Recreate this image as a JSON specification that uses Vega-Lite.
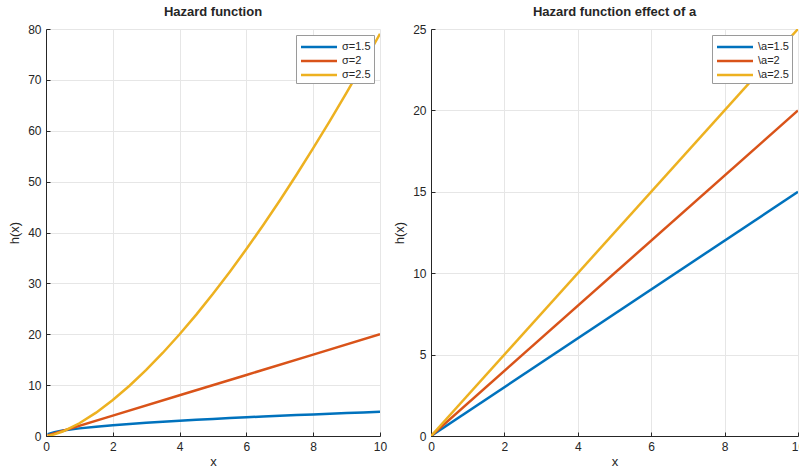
{
  "$schema": "https://vega.github.io/schema/vega-lite/v6.json",
  "background": "white",
  "padding": {"left": 8, "top": 6, "right": 0, "bottom": 0},
  "spacing": 6,
  "config": {
    "font": "Liberation Sans",
    "view": {"stroke": null},
    "title": {"fontSize": 13, "fontWeight": "bold", "color": "#262626", "offset": 4},
    "axis": {
      "domainColor": "#262626",
      "tickColor": "#262626",
      "tickSize": -4,
      "labelPadding": 9,
      "labelColor": "#262626",
      "labelFontSize": 12,
      "labelOverlap": false,
      "labelFlush": false,
      "titleFontSize": 13,
      "titleFontWeight": "normal",
      "titleColor": "#262626",
      "gridColor": "#e6e6e6",
      "gridOpacity": 1
    },
    "axisX": {"titlePadding": 3},
    "axisY": {"titlePadding": 6},
    "legend": {
      "orient": "top-right",
      "offset": 6,
      "title": null,
      "symbolType": "M-2.4,0H2.4",
      "symbolSize": 225,
      "symbolStrokeWidth": 2.5,
      "labelFontSize": 11,
      "labelColor": "#262626",
      "strokeColor": "#9a9a9a",
      "fillColor": "white",
      "padding": 3,
      "rowPadding": 0,
      "symbolOffset": 11,
      "labelOffset": 14,
      "cornerRadius": 0
    }
  },
  "hconcat": [
    {
      "title": "Hazard function",
      "width": 334,
      "height": 407,
      "data": {"values": [
        {"x": 0.05, "h": 0.335, "s": "σ=1.5"},
        {"x": 0.25, "h": 0.75, "s": "σ=1.5"},
        {"x": 0.5, "h": 1.061, "s": "σ=1.5"},
        {"x": 1, "h": 1.5, "s": "σ=1.5"},
        {"x": 1.5, "h": 1.837, "s": "σ=1.5"},
        {"x": 2, "h": 2.121, "s": "σ=1.5"},
        {"x": 2.5, "h": 2.372, "s": "σ=1.5"},
        {"x": 3, "h": 2.598, "s": "σ=1.5"},
        {"x": 3.5, "h": 2.806, "s": "σ=1.5"},
        {"x": 4, "h": 3.0, "s": "σ=1.5"},
        {"x": 4.5, "h": 3.182, "s": "σ=1.5"},
        {"x": 5, "h": 3.354, "s": "σ=1.5"},
        {"x": 5.5, "h": 3.518, "s": "σ=1.5"},
        {"x": 6, "h": 3.674, "s": "σ=1.5"},
        {"x": 6.5, "h": 3.824, "s": "σ=1.5"},
        {"x": 7, "h": 3.969, "s": "σ=1.5"},
        {"x": 7.5, "h": 4.108, "s": "σ=1.5"},
        {"x": 8, "h": 4.243, "s": "σ=1.5"},
        {"x": 8.5, "h": 4.373, "s": "σ=1.5"},
        {"x": 9, "h": 4.5, "s": "σ=1.5"},
        {"x": 9.5, "h": 4.623, "s": "σ=1.5"},
        {"x": 10, "h": 4.743, "s": "σ=1.5"},
        {"x": 0.05, "h": 0.1, "s": "σ=2"},
        {"x": 2, "h": 4, "s": "σ=2"},
        {"x": 4, "h": 8, "s": "σ=2"},
        {"x": 6, "h": 12, "s": "σ=2"},
        {"x": 8, "h": 16, "s": "σ=2"},
        {"x": 10, "h": 20, "s": "σ=2"},
        {"x": 0.05, "h": 0.028, "s": "σ=2.5"},
        {"x": 0.25, "h": 0.313, "s": "σ=2.5"},
        {"x": 0.5, "h": 0.884, "s": "σ=2.5"},
        {"x": 1, "h": 2.5, "s": "σ=2.5"},
        {"x": 1.5, "h": 4.593, "s": "σ=2.5"},
        {"x": 2, "h": 7.071, "s": "σ=2.5"},
        {"x": 2.5, "h": 9.882, "s": "σ=2.5"},
        {"x": 3, "h": 12.99, "s": "σ=2.5"},
        {"x": 3.5, "h": 16.37, "s": "σ=2.5"},
        {"x": 4, "h": 20.0, "s": "σ=2.5"},
        {"x": 4.5, "h": 23.865, "s": "σ=2.5"},
        {"x": 5, "h": 27.951, "s": "σ=2.5"},
        {"x": 5.5, "h": 32.247, "s": "σ=2.5"},
        {"x": 6, "h": 36.742, "s": "σ=2.5"},
        {"x": 6.5, "h": 41.43, "s": "σ=2.5"},
        {"x": 7, "h": 46.301, "s": "σ=2.5"},
        {"x": 7.5, "h": 51.35, "s": "σ=2.5"},
        {"x": 8, "h": 56.569, "s": "σ=2.5"},
        {"x": 8.5, "h": 61.955, "s": "σ=2.5"},
        {"x": 9, "h": 67.5, "s": "σ=2.5"},
        {"x": 9.5, "h": 73.202, "s": "σ=2.5"},
        {"x": 10, "h": 79.057, "s": "σ=2.5"}
      ]},
      "mark": {"type": "line", "strokeWidth": 2.5, "clip": true},
      "encoding": {
        "x": {"field": "x", "type": "quantitative", "scale": {"domain": [0, 10], "nice": false}, "axis": {"title": "x", "values": [0, 2, 4, 6, 8, 10]}},
        "y": {"field": "h", "type": "quantitative", "scale": {"domain": [0, 80], "nice": false}, "axis": {"title": "h(x)", "values": [0, 10, 20, 30, 40, 50, 60, 70, 80]}},
        "color": {"field": "s", "type": "nominal", "scale": {"domain": ["σ=1.5", "σ=2", "σ=2.5"], "range": ["#0072BD", "#D95319", "#EDB120"]}, "legend": {}}
      }
    },
    {
      "title": "Hazard function effect of a",
      "width": 367,
      "height": 407,
      "data": {"values": [
        {"x": 0, "h": 0, "s": "\\a=1.5"},
        {"x": 10, "h": 15, "s": "\\a=1.5"},
        {"x": 0, "h": 0, "s": "\\a=2"},
        {"x": 10, "h": 20, "s": "\\a=2"},
        {"x": 0, "h": 0, "s": "\\a=2.5"},
        {"x": 10, "h": 25, "s": "\\a=2.5"}
      ]},
      "mark": {"type": "line", "strokeWidth": 2.5, "clip": true},
      "encoding": {
        "x": {"field": "x", "type": "quantitative", "scale": {"domain": [0, 10], "nice": false}, "axis": {"title": "x", "values": [0, 2, 4, 6, 8, 10]}},
        "y": {"field": "h", "type": "quantitative", "scale": {"domain": [0, 25], "nice": false}, "axis": {"title": "h(x)", "values": [0, 5, 10, 15, 20, 25]}},
        "color": {"field": "s", "type": "nominal", "scale": {"domain": ["\\a=1.5", "\\a=2", "\\a=2.5"], "range": ["#0072BD", "#D95319", "#EDB120"]}, "legend": {}}
      }
    }
  ],
  "resolve": {"scale": {"color": "independent"}, "legend": {"color": "independent"}}
}
